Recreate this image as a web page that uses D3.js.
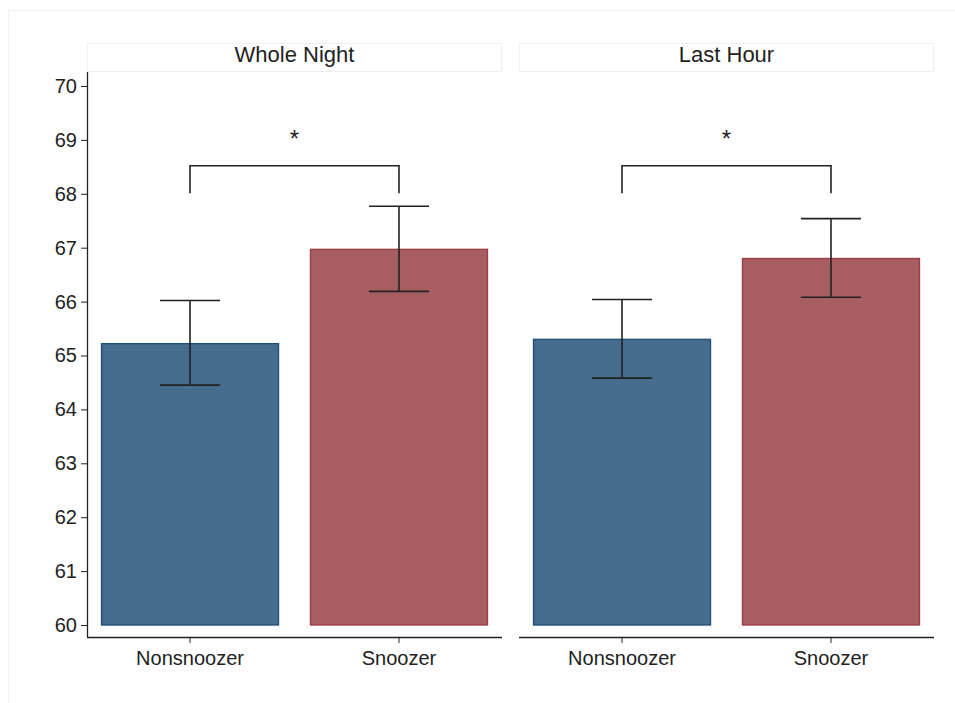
<!DOCTYPE html>
<html><head><meta charset="utf-8">
<script src="https://cdn.jsdelivr.net/npm/d3@7"></script>
<style>body{margin:0;background:#fff}svg{display:block}text{font-family:"Liberation Sans",Arial,sans-serif;fill:#222}</style>
</head><body><svg id="c" width="955" height="703"></svg>
<script>
const panels = ["Whole Night", "Last Hour"];
const categories = ["Nonsnoozer", "Snoozer"];
const means = [[65.22, 66.97], [65.30, 66.80]];
const ciLow = [[64.45, 66.19], [64.58, 66.08]];
const ciHigh = [[66.02, 67.77], [66.04, 67.54]];
const bracketTop = [68.52, 68.52];
const bracketBottom = [68.01, 68.01];
const starY = [69.13, 69.13];
const yTicks = [60, 61, 62, 63, 64, 65, 66, 67, 68, 69, 70];
const colors = ["#476d8e", "#a65e62"];
const strokes = ["#1d4d78", "#9b3b42"];

const svg = d3.select("#c");
svg.append("rect").attr("x", 8.5).attr("y", 10.5).attr("width", 960).attr("height", 700)
  .attr("fill", "#fff").attr("stroke", "#f0f0f0");

const y = d3.scaleLinear().domain([60, 70]).range([625, 86]);
const panelX = [[87, 502], [519, 934]];
const axisBottom = 637, axisTop = 72;

panels.forEach((p, i) => {
  const [x0, x1] = panelX[i];
  const x = d3.scaleBand().domain(categories).range([x0, x1]).paddingInner(0.148).paddingOuter(0.067);
  const g = svg.append("g");
  // strip
  g.append("rect").attr("x", x0 + 0.5).attr("y", 43.5).attr("width", x1 - x0 - 1).attr("height", 28)
    .attr("fill", "#fff").attr("stroke", "#f0f0f0");
  g.append("text").attr("x", (x0 + x1) / 2).attr("y", 62).attr("text-anchor", "middle")
    .attr("font-size", 22).text(p);
  // bars
  categories.forEach((c, j) => {
    const bx = x(c), bw = x.bandwidth(), cx = bx + bw / 2;
    g.append("rect").attr("x", bx + 0.5).attr("y", y(means[i][j])).attr("width", bw - 1)
      .attr("height", y(60) - y(means[i][j])).attr("fill", colors[j]).attr("stroke", strokes[j]).attr("stroke-width", 1.3);
    const eb = g.append("g").attr("stroke", "#222").attr("stroke-width", 1.6);
    eb.append("line").attr("x1", cx).attr("x2", cx).attr("y1", y(ciLow[i][j])).attr("y2", y(ciHigh[i][j]));
    [ciLow[i][j], ciHigh[i][j]].forEach(v => eb.append("line").attr("x1", cx - 30).attr("x2", cx + 30).attr("y1", y(v)).attr("y2", y(v)));
  });
  // bracket
  const c0 = x(categories[0]) + x.bandwidth() / 2, c1 = x(categories[1]) + x.bandwidth() / 2;
  g.append("path").attr("fill", "none").attr("stroke", "#222").attr("stroke-width", 1.6)
    .attr("d", `M${c0},${y(bracketBottom[i])}V${y(bracketTop[i])}H${c1}V${y(bracketBottom[i])}`);
  g.append("text").attr("x", (c0 + c1) / 2).attr("y", y(starY[i]) + 14).attr("text-anchor", "middle")
    .attr("font-size", 24).text("*");
  // x axis
  const xa = g.append("g").attr("transform", `translate(0,${axisBottom})`)
    .call(d3.axisBottom(x).tickSize(6).tickSizeOuter(0));
  xa.select(".domain").attr("d", `M${x0},0.5H${x1}`).attr("stroke", "#222").attr("stroke-width", 1.3);
  xa.selectAll(".tick line").attr("stroke", "#222");
  xa.selectAll("text").attr("font-size", 20).attr("y", 10).attr("dy", "0.9em").attr("fill", "#222");
  if (i === 0) {
    const ya = g.append("g").attr("transform", `translate(${x0},0)`)
      .call(d3.axisLeft(y).tickValues(yTicks).tickSize(6).tickFormat(d3.format("d")));
    ya.select(".domain").attr("d", `M0.5,${axisTop}V${axisBottom}`).attr("stroke", "#222").attr("stroke-width", 1.3);
    ya.selectAll(".tick line").attr("stroke", "#222");
    ya.selectAll("text").attr("font-size", 20).attr("x", -10).attr("fill", "#222");
  }
});
</script></body></html>
